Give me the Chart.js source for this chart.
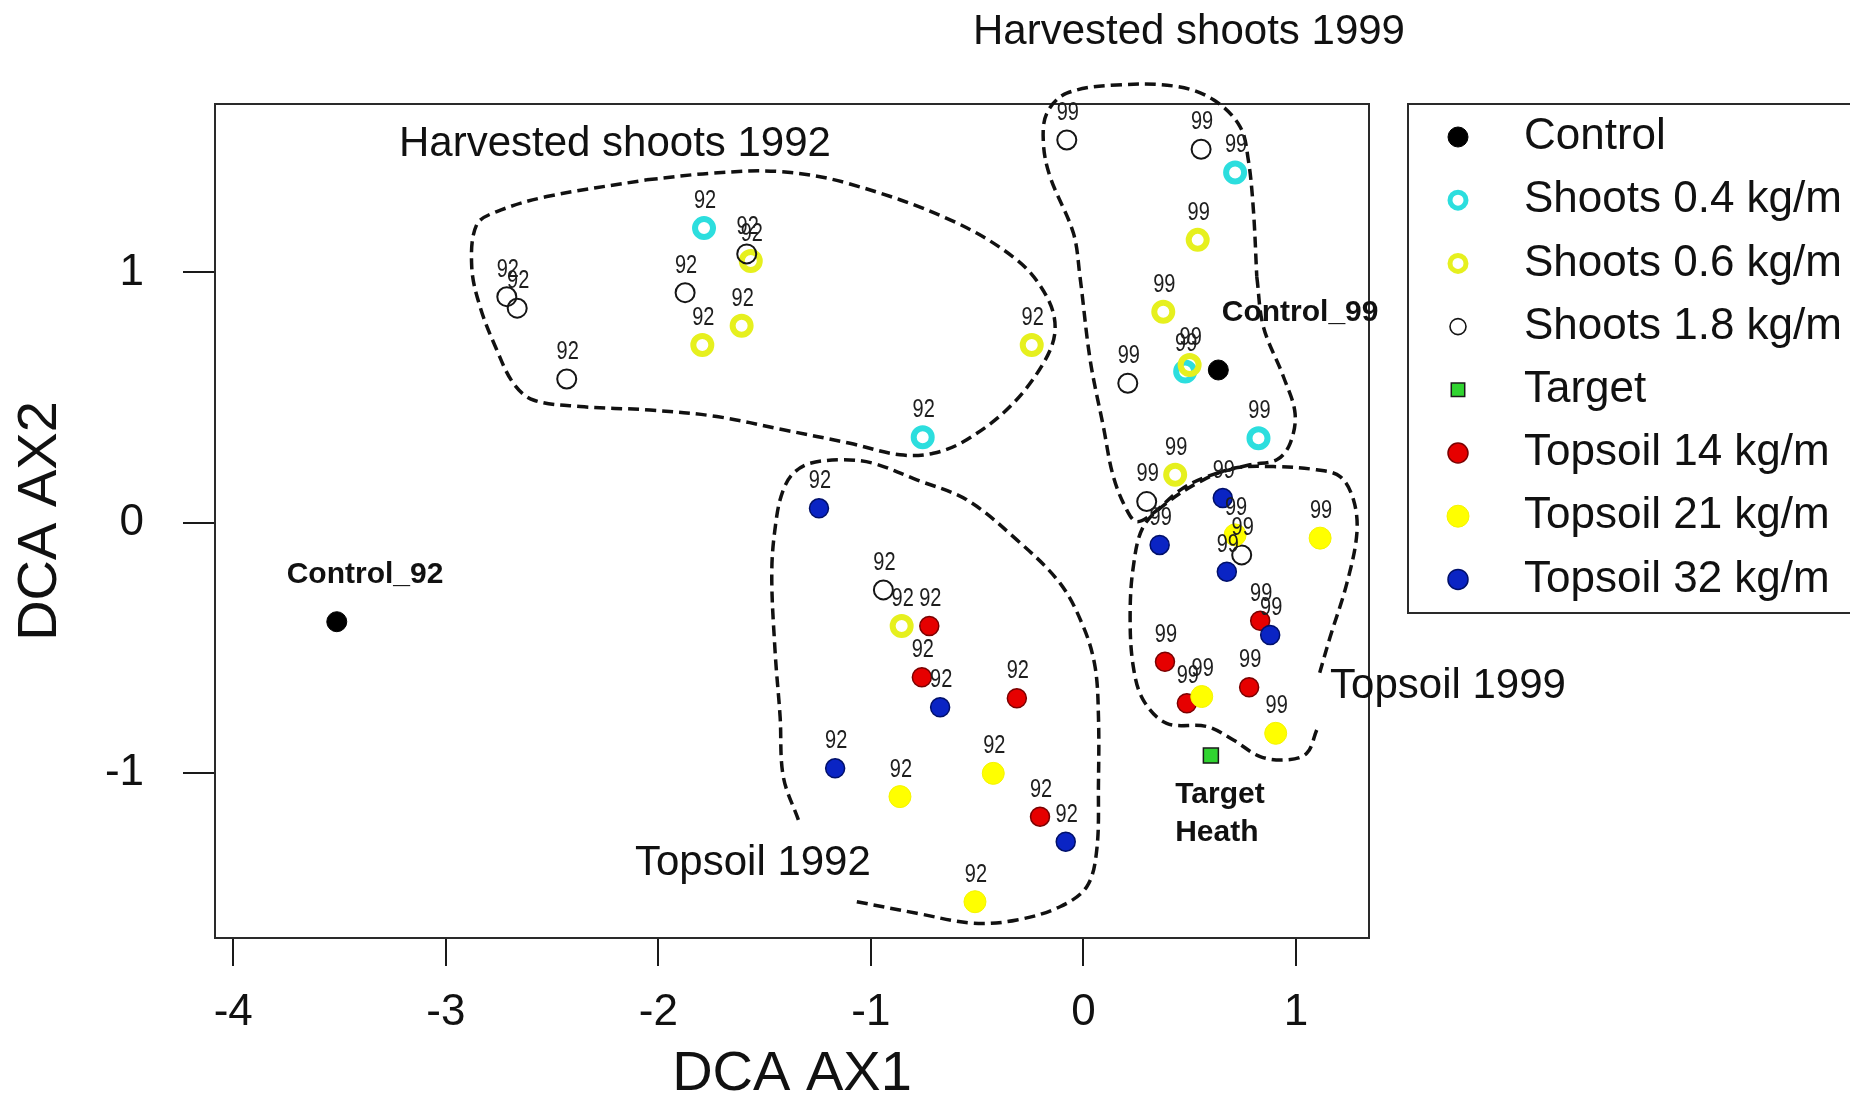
<!DOCTYPE html>
<html>
<head>
<meta charset="utf-8">
<script src="https://cdn.jsdelivr.net/npm/chart.js@4/dist/chart.umd.min.js"></script>
<style>
html,body{margin:0;padding:0;background:#ffffff;}
#wrap{width:1850px;height:1103px;position:relative;}
</style>
</head>
<body>
<div id="wrap"><canvas id="c" width="1850" height="1103"></canvas></div>
<script>
// ---------------- DATA ----------------
const seriesNames = ['Control', 'Shoots 0.4 kg/m', 'Shoots 0.6 kg/m', 'Shoots 1.8 kg/m', 'Target', 'Topsoil 14 kg/m', 'Topsoil 21 kg/m', 'Topsoil 32 kg/m'];

const controlX = [-3.513, 0.635];
const controlY = [-0.396, 0.610];

const shoots04X = [-1.785, -0.756, 0.714, 0.479, 0.824];
const shoots04Y = [1.177, 0.341, 1.399, 0.604, 0.337];
const shoots04Yr = ['92', '92', '99', '99', '99'];

const shoots06X = [-1.565, -1.608, -1.793, -0.243, -0.855, 0.538, 0.376, 0.500, 0.432];
const shoots06Y = [1.046, 0.787, 0.710, 0.710, -0.413, 1.130, 0.843, 0.630, 0.191];
const shoots06Yr = ['92', '92', '92', '92', '92', '99', '99', '99', '99'];

const shoots18X = [-1.584, -1.874, -2.713, -2.664, -2.431, -0.941, -0.078, 0.554, 0.209, 0.298, 0.745];
const shoots18Y = [1.074, 0.919, 0.903, 0.857, 0.574, -0.269, 1.529, 1.492, 0.557, 0.084, -0.129];
const shoots18Yr = ['92', '92', '92', '92', '92', '92', '99', '99', '99', '99', '99'];

const targetX = [0.600];
const targetY = [-0.931];

const topsoil14X = [-0.725, -0.760, -0.313, -0.204, 0.832, 0.384, 0.487, 0.780];
const topsoil14Y = [-0.413, -0.618, -0.702, -1.175, -0.392, -0.556, -0.722, -0.658];
const topsoil14Yr = ['92', '92', '92', '92', '99', '99', '99', '99'];

const topsoil21X = [-0.863, -0.424, -0.510, 0.714, 1.114, 0.557, 0.905];
const topsoil21Y = [-1.095, -1.002, -1.515, -0.049, -0.062, -0.695, -0.842];
const topsoil21Yr = ['92', '92', '92', '99', '99', '99', '99'];

const topsoil32X = [-1.244, -0.674, -1.168, -0.083, 0.656, 0.359, 0.675, 0.879];
const topsoil32Y = [0.057, -0.738, -0.982, -1.275, 0.098, -0.089, -0.196, -0.449];
const topsoil32Yr = ['92', '92', '92', '92', '99', '99', '99', '99'];

const xTicks = [-4, -3, -2, -1, 0, 1];
const yTicks = [-1, 0, 1];
const xMin = -4.086, xMax = 1.344;
const yMin = -1.660, yMax = 1.673;
const xTitle = 'DCA AX1';
const yTitle = 'DCA AX2';

// group outlines (dashed hulls), in data units
const hull1X = [-2.055, -1.741, -1.427, -1.113, -0.627, -0.313, -0.172, -0.133, -0.188, -0.345, -0.549, -0.706, -0.863, -1.098, -1.412, -1.725, -2.039, -2.368, -2.588, -2.682, -2.760, -2.839, -2.878, -2.855, -2.760, -2.525];
const hull1Y = [1.370, 1.397, 1.403, 1.357, 1.210, 1.050, 0.903, 0.770, 0.637, 0.464, 0.331, 0.277, 0.271, 0.317, 0.371, 0.424, 0.450, 0.464, 0.490, 0.557, 0.690, 0.863, 1.023, 1.190, 1.243, 1.303];
const hull2X = [0.816, 0.847, 0.941, 0.996, 0.973, 0.910, 0.784, 0.581, 0.455, 0.329, 0.251, 0.204, 0.141, 0.094, 0.032, -0.016, -0.047, -0.157, -0.188, -0.172, -0.078, 0.157, 0.440, 0.612, 0.737, 0.776, 0.800];
const hull2Y = [0.983, 0.783, 0.584, 0.437, 0.317, 0.251, 0.231, 0.184, 0.130, 0.038, 0.004, 0.051, 0.184, 0.384, 0.650, 0.983, 1.157, 1.383, 1.516, 1.636, 1.716, 1.749, 1.743, 1.690, 1.583, 1.450, 1.250];
const hull3X = [1.098, 1.051, 0.957, 0.832, 0.706, 0.581, 0.392, 0.282, 0.235, 0.220, 0.235, 0.282, 0.392, 0.549, 0.706, 0.894, 1.098, 1.208, 1.271, 1.287, 1.240, 1.160, 1.112];
const hull3Y = [-0.829, -0.922, -0.948, -0.935, -0.869, -0.815, -0.802, -0.709, -0.576, -0.376, -0.176, -0.016, 0.078, 0.164, 0.217, 0.224, 0.211, 0.184, 0.091, -0.042, -0.242, -0.460, -0.600];
const hull4X = [-1.066, -0.784, -0.518, -0.313, -0.110, 0.016, 0.063, 0.071, 0.071, 0.055, 0.000, -0.110, -0.313, -0.549, -0.784, -0.988, -1.129, -1.286, -1.365, -1.412, -1.443, -1.466, -1.451, -1.427, -1.412, -1.341];
const hull4Y = [-1.515, -1.561, -1.601, -1.588, -1.535, -1.455, -1.308, -1.042, -0.775, -0.576, -0.416, -0.242, -0.069, 0.091, 0.171, 0.237, 0.251, 0.237, 0.197, 0.131, 0.024, -0.189, -0.509, -0.775, -1.015, -1.188];

// text annotations (positions in data units)
const noteTexts = ['Harvested shoots 1992', 'Harvested shoots 1999', 'Topsoil 1992', 'Topsoil 1999', 'Control_92', 'Control_99', 'Target', 'Heath'];
const noteX = [-2.204, 0.497, -1.555, 1.161, -3.380, 1.020, 0.432, 0.432];
const noteY = [1.510, 1.961, -1.360, -0.655, -0.209, 0.837, -1.089, -1.240];

// ---------------- BUILD ----------------
const FONT = "'Liberation Sans', Arial, Helvetica, sans-serif";
const pts = (xs, ys) => xs.map((x, i) => ({ x: x, y: ys[i] }));
const closedPts = (xs, ys) => { const p = pts(xs, ys); p.push({ x: xs[0], y: ys[0] }); return p; };

const seriesX = [controlX, shoots04X, shoots06X, shoots18X, targetX, topsoil14X, topsoil21X, topsoil32X];
const seriesY = [controlY, shoots04Y, shoots06Y, shoots18Y, targetY, topsoil14Y, topsoil21Y, topsoil32Y];
const seriesYr = [null, shoots04Yr, shoots06Yr, shoots18Yr, null, topsoil14Yr, topsoil21Yr, topsoil32Yr];

const styles = [
  { bg: '#000000', bd: '#000000', r: 10, bw: 1, ps: 'circle', lr: 10, lbw: 1 },
  { bg: 'rgba(0,0,0,0)', bd: '#2cdede', r: 9, bw: 6, ps: 'circle', lr: 8, lbw: 5 },
  { bg: 'rgba(0,0,0,0)', bd: '#e6f01e', r: 9, bw: 6, ps: 'circle', lr: 8, lbw: 5 },
  { bg: 'rgba(0,0,0,0)', bd: '#151515', r: 9.5, bw: 2, ps: 'circle', lr: 8, lbw: 1.6 },
  { bg: '#30d430', bd: '#1a1a1a', r: 10.6, bw: 1.5, ps: 'rect', lr: 9.5, lbw: 1.5 },
  { bg: '#e60000', bd: '#7a0000', r: 9.5, bw: 1.5, ps: 'circle', lr: 10, lbw: 1.5 },
  { bg: '#ffff00', bd: '#f4f400', r: 11, bw: 1, ps: 'circle', lr: 11, lbw: 1 },
  { bg: '#0a24c4', bd: '#00106a', r: 9.5, bw: 1.5, ps: 'circle', lr: 10, lbw: 1.5 }
];

const datasets = [];
seriesNames.forEach((name, i) => {
  const s = styles[i];
  datasets.push({
    label: name,
    data: pts(seriesX[i], seriesY[i]),
    pointStyle: s.ps,
    pointRadius: s.r,
    pointHoverRadius: s.r,
    backgroundColor: s.bg,
    borderColor: s.bd,
    borderWidth: s.bw,
    showLine: false,
    order: 20 - i
  });
});
const hullSets = [closedPts(hull1X, hull1Y), closedPts(hull2X, hull2Y), pts(hull3X, hull3Y), pts(hull4X, hull4Y)];
hullSets.forEach((d, k) => {
  datasets.push({
    label: 'outline' + (k + 1),
    data: d,
    showLine: true,
    pointRadius: 0,
    pointHoverRadius: 0,
    borderColor: '#111111',
    backgroundColor: 'rgba(0,0,0,0)',
    borderWidth: 3.5,
    borderDash: [11, 6],
    tension: 0.35,
    fill: false,
    clip: false,
    order: 100
  });
});

const framePlugin = {
  id: 'frame',
  beforeDatasetsDraw(chart) {
    const a = chart.chartArea, ctx = chart.ctx;
    ctx.save();
    ctx.strokeStyle = '#2a2a2a';
    ctx.lineWidth = 2;
    ctx.strokeRect(a.left, a.top, a.right - a.left, a.bottom - a.top);
    ctx.restore();
  }
};

const labelPlugin = {
  id: 'yearLabels',
  afterDatasetsDraw(chart) {
    const ctx = chart.ctx;
    ctx.save();
    ctx.font = '25px ' + FONT;
    ctx.textAlign = 'center';
    ctx.textBaseline = 'middle';
    ctx.fillStyle = '#1e1e1e';
    seriesYr.forEach((yrs, si) => {
      if (!yrs) return;
      const meta = chart.getDatasetMeta(si);
      meta.data.forEach((el, j) => {
        ctx.save();
        ctx.translate(el.x + 1, el.y - 27);
        ctx.scale(0.8, 1);
        ctx.fillText(yrs[j], 0, 0);
        ctx.restore();
      });
    });
    ctx.restore();
  }
};

const notePlugin = {
  id: 'notes',
  afterDraw(chart) {
    const ctx = chart.ctx, xs = chart.scales.x, ys = chart.scales.y;
    ctx.save();
    ctx.fillStyle = '#111111';
    ctx.textBaseline = 'middle';
    noteTexts.forEach((t, i) => {
      const bold = i >= 4;
      ctx.font = (bold ? 'bold 30px ' : '42px ') + FONT;
      ctx.textAlign = (i === 3 || i === 6 || i === 7) ? 'left' : 'center';
      ctx.fillText(t, xs.getPixelForValue(noteX[i]), ys.getPixelForValue(noteY[i]));
    });
    ctx.restore();
  }
};

const legendPlugin = {
  id: 'boxLegend',
  afterDraw(chart) {
    const ctx = chart.ctx;
    const left = 1408, top = 104, bottom = 613;
    const symX = 1458, textX = 1524, y0 = 137, dy = 63.2;
    ctx.save();
    ctx.strokeStyle = '#2a2a2a';
    ctx.lineWidth = 2;
    ctx.strokeRect(left, top, 480, bottom - top);
    seriesNames.forEach((name, i) => {
      const s = styles[i];
      const y = y0 + dy * i;
      ctx.fillStyle = s.bg;
      ctx.strokeStyle = s.bd;
      ctx.lineWidth = s.lbw;
      ctx.beginPath();
      if (s.ps === 'rect') {
        const h = s.lr * Math.SQRT1_2;
        ctx.rect(symX - h, y - h, 2 * h, 2 * h);
      } else {
        ctx.arc(symX, y, s.lr, 0, Math.PI * 2);
      }
      ctx.fill();
      ctx.stroke();
      ctx.fillStyle = '#111111';
      ctx.font = '44px ' + FONT;
      ctx.textAlign = 'left';
      ctx.textBaseline = 'middle';
      ctx.fillText(name, textX, y);
    });
    ctx.restore();
  }
};

new Chart(document.getElementById('c'), {
  type: 'scatter',
  data: { datasets: datasets },
  options: {
    responsive: false,
    animation: false,
    events: [],
    layout: { padding: { left: 0, top: 104, right: 481, bottom: 0 } },
    plugins: { legend: { display: false }, tooltip: { enabled: false } },
    scales: {
      x: {
        type: 'linear',
        min: xMin, max: xMax,
        afterBuildTicks: (sc) => { sc.ticks = xTicks.map(v => ({ value: v })); },
        afterFit: (sc) => { sc.height = 165; },
        grid: { display: true, drawOnChartArea: false, drawTicks: true, tickLength: 28, color: '#1a1a1a', lineWidth: 2 },
        border: { display: false },
        ticks: { color: '#111', font: { family: FONT, size: 44 }, padding: 20, maxRotation: 0, autoSkip: false },
        title: { display: true, text: xTitle, color: '#111', font: { family: FONT, size: 56, lineHeight: 1 }, padding: { top: 0, bottom: 0 } }
      },
      y: {
        type: 'linear',
        min: yMin, max: yMax,
        afterBuildTicks: (sc) => { sc.ticks = yTicks.map(v => ({ value: v })); },
        afterFit: (sc) => { sc.width = 215; },
        grid: { display: true, drawOnChartArea: false, drawTicks: true, tickLength: 32, color: '#1a1a1a', lineWidth: 2 },
        border: { display: false },
        ticks: { color: '#111', font: { family: FONT, size: 44 }, padding: 39, autoSkip: false },
        title: { display: true, text: yTitle, color: '#111', font: { family: FONT, size: 56, lineHeight: 1 }, padding: { top: 13, bottom: 0 } }
      }
    }
  },
  plugins: [framePlugin, labelPlugin, notePlugin, legendPlugin]
});
</script>
</body>
</html>
